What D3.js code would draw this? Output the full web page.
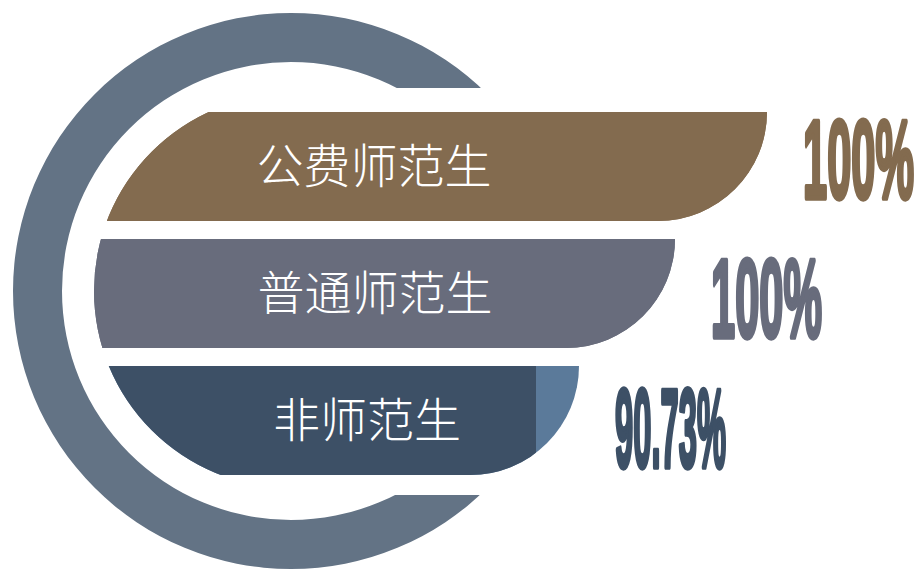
<!DOCTYPE html>
<html>
<head>
<meta charset="utf-8">
<script src="https://cdn.jsdelivr.net/npm/d3@7"></script>
<style>
  html, body { margin: 0; padding: 0; background: #ffffff; }
  svg { display: block; }
</style>
</head>
<body>
<div id="chart"></div>
<script>
// ---- data ----
const categories = ["公费师范生", "普通师范生", "非师范生"];
const values = [100, 100, 90.73];
const valueLabels = ["100%", "100%", "90.73%"];
const barColors = ["#836b4f", "#686c7c", "#3d5066"];
const trackColors = ["#836b4f", "#686c7c", "#5b7a9a"];
const ringColor = "#637385";

// ---- layout ----
const W = 919, H = 572;
const cx = 291, cy = 291;
const ringOuter = 278, ringInner = 229;
const ringCutTop = 88, ringCutBottom = 495;
const barClipR = 197;
const barStart = 115;
const barEnds = [767, 675, 579];
const labelCenters = [374, 375, 367];
const valueDy = [-8, 3, 6];
const valueWidth = 111;

const svg = d3.select("#chart").append("svg")
  .attr("width", W).attr("height", H);
const defs = svg.append("defs");

// ring clip: keep left half plus top/bottom strips
const ringClip = defs.append("clipPath").attr("id", "ringClip");
ringClip.append("rect").attr("x", 0).attr("y", 0).attr("width", cx).attr("height", H);
ringClip.append("rect").attr("x", 0).attr("y", 0).attr("width", W).attr("height", ringCutTop);
ringClip.append("rect").attr("x", 0).attr("y", ringCutBottom).attr("width", W).attr("height", H - ringCutBottom);

const ringArc = d3.arc()
  .innerRadius(ringInner).outerRadius(ringOuter)
  .startAngle(0).endAngle(2 * Math.PI);

svg.append("g")
  .attr("clip-path", "url(#ringClip)")
  .append("path")
  .attr("transform", `translate(${cx},${cy})`)
  .attr("d", ringArc())
  .attr("fill", ringColor);

// bar clip: inside circle on left side, free on right
const barClip = defs.append("clipPath").attr("id", "barClip");
barClip.append("circle").attr("cx", cx).attr("cy", cy).attr("r", barClipR);
barClip.append("rect").attr("x", cx).attr("y", 0).attr("width", W - cx).attr("height", H);

const y = d3.scaleBand()
  .domain(categories)
  .range([112, 475])
  .paddingInner(0.142)
  .paddingOuter(0);

function barShape(x0, x1, top, h) {
  const r = Math.min(h, x1 - x0);
  const p = d3.path();
  p.moveTo(x0, top);
  p.lineTo(x1, top);
  p.arc(x1 - r, top, r, 0, Math.PI / 2);
  p.lineTo(x0, top + h);
  p.closePath();
  return p.toString();
}

const gBars = svg.append("g").attr("clip-path", "url(#barClip)");

categories.forEach((c, i) => {
  const x = d3.scaleLinear().domain([0, 100]).range([barStart, barEnds[i]]);
  const top = y(c), h = y.bandwidth();
  const shape = barShape(0, x(100), top, h);

  defs.append("clipPath").attr("id", "track" + i)
    .append("path").attr("d", shape);

  gBars.append("path")
    .attr("d", shape)
    .attr("fill", trackColors[i]);

  gBars.append("g").attr("clip-path", `url(#track${i})`)
    .append("rect")
    .attr("x", 0)
    .attr("y", top)
    .attr("width", x(values[i]))
    .attr("height", h)
    .attr("fill", barColors[i]);

  // category label
  svg.append("text")
    .attr("x", labelCenters[i])
    .attr("y", top + h / 2 - 4)
    .attr("text-anchor", "middle")
    .attr("dominant-baseline", "central")
    .attr("font-family", "'Noto Sans CJK SC', 'Noto Sans', sans-serif")
    .attr("font-weight", 300)
    .attr("font-size", 47)
    .attr("fill", "#ffffff")
    .text(c);

  // value label (condensed by horizontal scaling)
  const vx = x(100) + 36;
  const vy = top + h / 2 + 40 + valueDy[i];
  const g = svg.append("g");
  const t = g.append("text")
    .attr("x", 0)
    .attr("y", 0)
    .attr("font-family", "'Liberation Sans Narrow', 'Liberation Sans', Arial, sans-serif")
    .attr("font-weight", 700)
    .attr("font-size", 112)
    .attr("fill", barColors[i])
    .attr("stroke", barColors[i])
    .attr("stroke-linejoin", "round")
    .text(valueLabels[i]);
  const len = t.node().getComputedTextLength() || 1;
  const sx = valueWidth / len;
  g.attr("transform", `translate(${vx},${vy}) scale(${sx},1)`);
  t.attr("stroke-width", 4).attr("vector-effect", "non-scaling-stroke");
});
</script>
</body>
</html>
